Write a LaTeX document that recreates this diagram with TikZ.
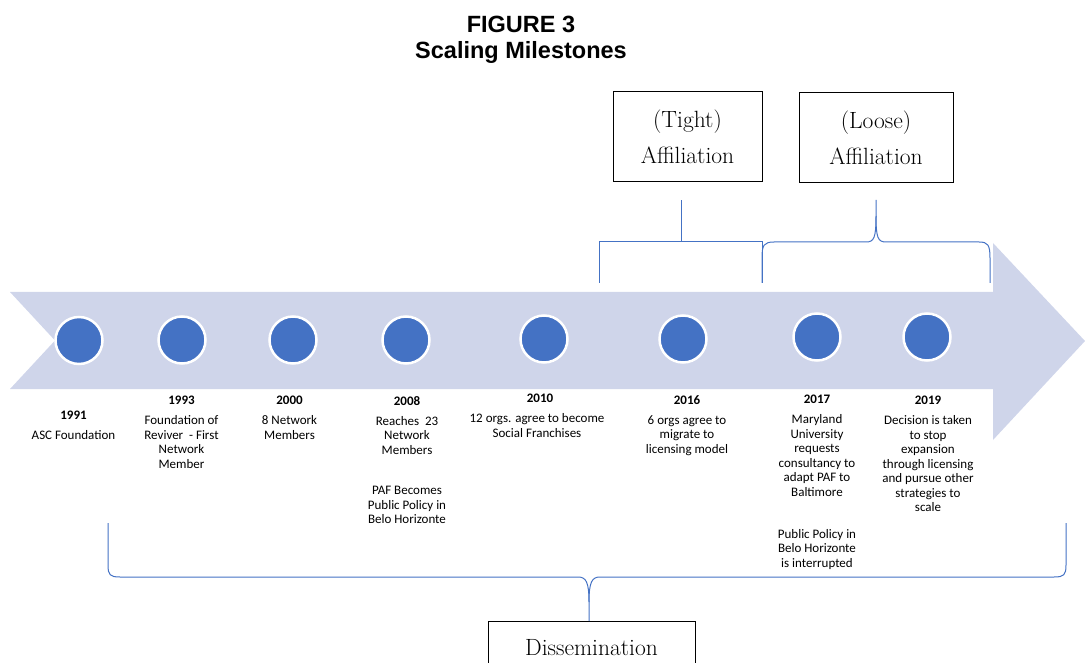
\documentclass[tikz,border=0pt]{standalone}
\usepackage{fontspec}
\newfontfamily\labfont{Carlito}
\newfontfamily\titlefont{Liberation Sans}
\definecolor{band}{HTML}{CFD5EA}
\definecolor{dot}{HTML}{4472C4}
\definecolor{bracecol}{HTML}{4472C4}
\begin{document}
\begin{tikzpicture}[x=1pt,y=-1pt,
  dotnode/.style={circle, fill=dot, draw=white, line width=2.5pt, minimum size=47pt, inner sep=0pt},
  yearlab/.style={font=\labfont\bfseries\fontsize{13}{14.5}\selectfont, anchor=base, inner sep=0pt},
  desclab/.style={font=\labfont\fontsize{13}{14.5}\selectfont, align=center, anchor=north, inner sep=0pt},
  phasebox/.style={draw=black, line width=1pt, font=\fontsize{23.5}{36.5}\selectfont, align=center, inner sep=0pt},
  titletext/.style={font=\titlefont\bfseries\fontsize{23.5}{26}\selectfont, anchor=base, inner sep=0pt},
  bracket/.style={draw=bracecol, line width=1pt}]
\useasboundingbox (0,0) rectangle (1085,663);
\clip (0,0) rectangle (1085,663);

% title
\node[titletext] (t1) at (521,32.7) {FIGURE 3};
\node[titletext] (t2) at (521,58.5) {Scaling Milestones};

% band arrow
\fill[band] (10,292) -- (993,292) -- (993,243) -- (1085,341) -- (993,440) -- (993,389) -- (10,389) -- (55,340.5) -- cycle;

% dots
\node[dotnode] (d1) at (79,340.5) {};
\node[dotnode] (d2) at (182,340) {};
\node[dotnode] (d3) at (293,340) {};
\node[dotnode] (d4) at (406,340) {};
\node[dotnode] (d5) at (544,339) {};
\node[dotnode] (d6) at (683,339) {};
\node[dotnode] (d7) at (817,337) {};
\node[dotnode] (d8) at (927,337) {};

% years
\node[yearlab] (y1) at (73.5,419.5) {1991};
\node[yearlab] (y2) at (181.5,404.5) {1993};
\node[yearlab] (y3) at (289.5,404.5) {2000};
\node[yearlab] (y4) at (407,405) {2008};
\node[yearlab] (y5) at (540,402) {2010};
\node[yearlab] (y6) at (687,404.5) {2016};
\node[yearlab] (y7) at (817,403) {2017};
\node[yearlab] (y8) at (928,404.5) {2019};

% descriptions
\node[desclab] (l1) at (73.5,430.5) {ASC Foundation};
\node[desclab] (l2) at (181.5,415.5) {Foundation of\\Reviver\ \ - First\\Network\\Member};
\node[desclab] (l3) at (289.5,415.5) {8 Network\\Members};
\node[desclab] (l4) at (407,416) {Reaches\ \ 23\\Network\\Members};
\node[desclab] (l4b) at (407,486) {PAF Becomes\\Public Policy in\\Belo Horizonte};
\node[desclab] (l5) at (537,413.5) {12 orgs. agree to become\\Social Franchises};
\node[desclab] (l6) at (687,415.5) {6 orgs agree to\\migrate to\\licensing model};
\node[desclab] (l7) at (817,414.5) {Maryland\\University\\requests\\consultancy to\\adapt PAF to\\Baltimore};
\node[desclab] (l7b) at (817,529) {Public Policy in\\Belo Horizonte\\is interrupted};
\node[desclab] (l8) at (928,415.5) {Decision is taken\\to stop\\expansion\\through licensing\\and pursue other\\strategies to\\scale};

% phase boxes
\node[phasebox, minimum width=149pt, minimum height=90pt] (tight) at (687.5,137) {(Tight)\\Affiliation};
\node[phasebox, minimum width=154pt, minimum height=90pt] (loose) at (876,138) {(Loose)\\Affiliation};
\node[phasebox, minimum width=207pt, minimum height=52pt, anchor=north] (diss) at (591.5,621) {Dissemination};

% tight bracket
\coordinate (tstem) at (681,200);
\coordinate (lstem) at (876,200);
\draw[bracket] (599,283) -- (599,242) -- (762,242) -- (762,283);
\draw[bracket] (681,242) -- (tstem);

% loose brace
\draw[bracket] (762,283) -- (762,258) .. controls (762,245) and (764,242) .. (774,242) -- (866,242) .. controls (874,242) and (876,238) .. (876,216) -- (lstem);
\draw[bracket] (876,216) .. controls (876,238) and (878,242) .. (886,242) -- (979,242) .. controls (988,242) and (990,245) .. (990,258) -- (990,283);

% bottom brace
\draw[bracket] (108,523) -- (108,565) .. controls (108,575) and (110,577) .. (120,577) -- (578,577) .. controls (586,577) and (589,582) .. (589,602) -- (diss.north -| 589,0);
\draw[bracket] (589,602) .. controls (589,582) and (592,577) .. (600,577) -- (1054,577) .. controls (1064,577) and (1066,575) .. (1066,565) -- (1066,523);
\end{tikzpicture}
\end{document}
